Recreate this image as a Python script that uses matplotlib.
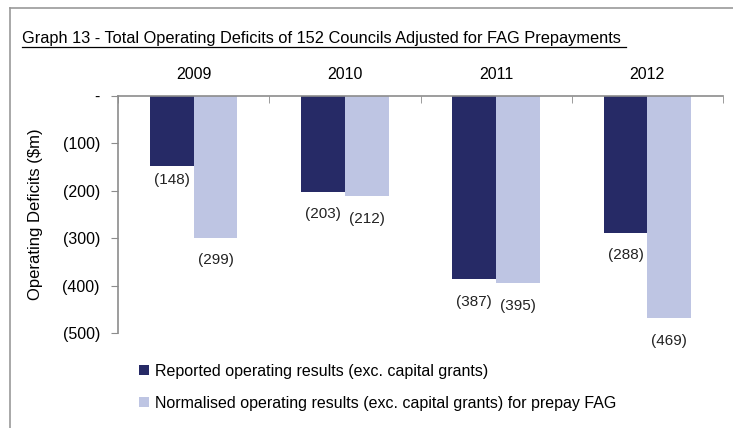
import numpy as np
import matplotlib
matplotlib.use('Agg')
import matplotlib.pyplot as plt
from matplotlib.lines import Line2D

years = ['2009', '2010', '2011', '2012']
reported = [-148, -203, -387, -288]
normalised = [-299, -212, -395, -469]
yticks = [0, -100, -200, -300, -400, -500]
ytick_labels = ['-', '(100)', '(200)', '(300)', '(400)', '(500)']
series_names = ['Reported operating results (exc. capital grants)',
                'Normalised operating results (exc. capital grants) for prepay FAG']

plt.rcParams['font.family'] = ['Liberation Sans', 'DejaVu Sans']

navy = '#262a66'
lilac = '#bec5e3'
grey = '#8c8c8c'

fig = plt.figure(figsize=(7.33, 4.28), dpi=100)
ax = fig.add_axes([118/733, 1-333/428, (723-118)/733, (333-96)/428])

x = np.arange(len(years))
w = 0.29
b1 = ax.bar(x - w/2, reported, w, color=navy)
b2 = ax.bar(x + w/2, normalised, w, color=lilac)

# label gaps below the bar ends (points)
gaps1 = [-5, -11, -11, -11]
gaps2 = [-11, -11, -11, -11]
for bars, vals, gaps in ((b1, reported, gaps1), (b2, normalised, gaps2)):
    for r, v, g in zip(bars, vals, gaps):
        ax.annotate('(%d)' % -v, (r.get_x() + r.get_width()/2, v),
                    xytext=(0, g), textcoords='offset points',
                    ha='center', va='top', fontsize=11, color='#222222')

ax.set_ylim(-500, 0)
ax.set_xlim(-0.5, len(years) - 0.5)
ax.set_yticks(yticks)
ax.set_yticklabels(ytick_labels)
ax.tick_params(axis='y', labelsize=11.5, length=5, color=grey, pad=8)

ax.xaxis.tick_top()
ax.set_xticks(x)
ax.set_xticklabels(years)
ax.set_xticks(np.arange(len(years) + 1) - 0.5, minor=True)
ax.tick_params(axis='x', which='major', length=0, labelsize=11.5, pad=10)
ax.tick_params(axis='x', which='minor', direction='in', length=5, color=grey)

for s in ('right', 'bottom'):
    ax.spines[s].set_visible(False)
for s in ('left', 'top'):
    ax.spines[s].set_color(grey)
    ax.spines[s].set_linewidth(1.2)

ax.set_ylabel('Operating Deficits ($m)', fontsize=12, labelpad=14)

fig.text(22/733, 1-38/428, 'Graph 13 - Total Operating Deficits of 152 Councils Adjusted for FAG Prepayments',
         fontsize=11.8, va='center', ha='left')
fig.add_artist(Line2D([22/733, 626/733], [1-47/428, 1-47/428], color='black', lw=0.9))

# outer frame lines
fig.add_artist(Line2D([10/733, 1], [1-8/428, 1-8/428], color='#999999', lw=1.2))
fig.add_artist(Line2D([10/733, 10/733], [1-8/428, 0], color='#999999', lw=1.2))

ax.legend([b1, b2], series_names, loc='upper left', bbox_to_anchor=(139/733, 1-364/428),
          bbox_transform=fig.transFigure, frameon=False, fontsize=11.5,
          handlelength=0.6, handleheight=0.6, handletextpad=0.4, labelspacing=1.05,
          borderaxespad=0, borderpad=0)

fig.savefig('out.png', dpi=100)
